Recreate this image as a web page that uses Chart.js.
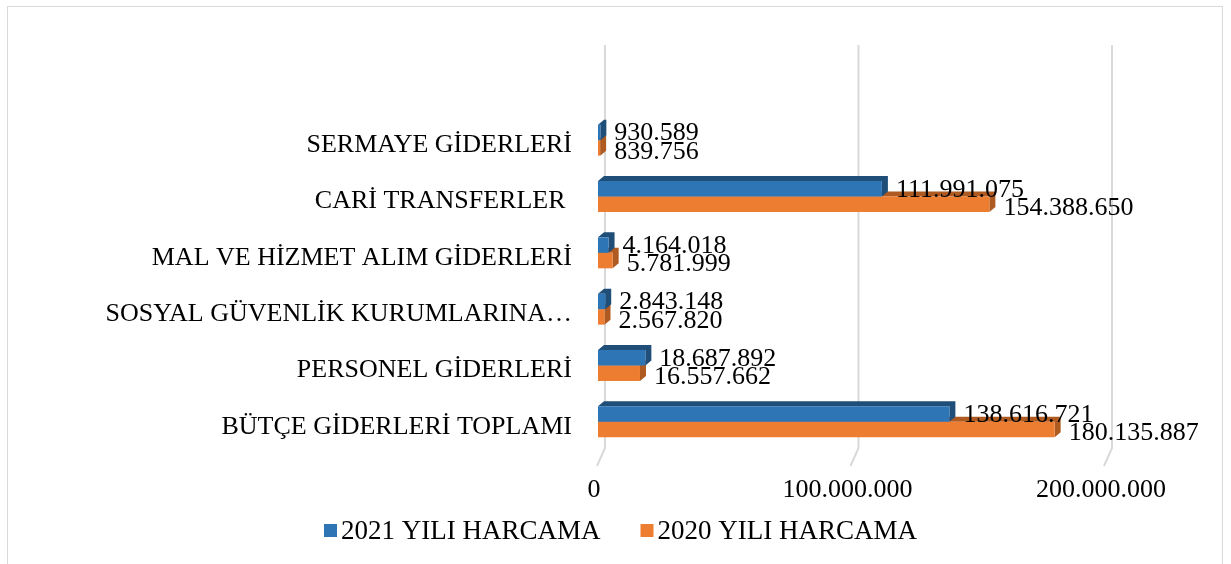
<!DOCTYPE html>
<html>
<head>
<meta charset="utf-8">
<script src="https://cdn.jsdelivr.net/npm/chart.js@4"></script>
<style>
    body { margin: 0; background: #fff; }
    #wrap { position: relative; width: 1231px; height: 564px; overflow: hidden; }
    #frame { position: absolute; left: 7px; top: 6px; width: 1214px; height: 600px; border: 1px solid #d9d9d9; }
    #myChart { position: absolute; left: 0; top: 0; }
</style>
</head>
<body>
<div id="wrap">
    <div id="frame"></div>
    <canvas id="myChart" width="1231" height="564"></canvas>
</div>
<script>
let categories = [
    "SERMAYE GİDERLERİ",
    "CARİ TRANSFERLER ",
    "MAL VE HİZMET ALIM GİDERLERİ",
    "SOSYAL GÜVENLİK KURUMLARINA…",
    "PERSONEL GİDERLERİ",
    "BÜTÇE GİDERLERİ TOPLAMI"
];
let harcama2021 = [930589, 111991075, 4164018, 2843148, 18687892, 138616721];
let harcama2020 = [839756, 154388650, 5781999, 2567820, 16557662, 180135887];
let seriesNames = ["2021 YILI HARCAMA", "2020 YILI HARCAMA"];
let tickValues = [0, 100000000, 200000000];

function fmt(v) {
    return String(v).replace(/\B(?=(\d{3})+(?!\d))/g, ".");
}

const font = "Liberation Serif, Times New Roman, serif";
const front = ["#2e75b6", "#ed7d31"];
const dark = ["#1f4e79", "#ae5a21"];

// gridlines with the little 3D floor step, bar depth faces, value labels, legend
const chart3d = {
    id: "chart3d",
    beforeDatasetsDraw(chart) {
        const ctx = chart.ctx;
        const x = chart.scales.x;
        const a = chart.chartArea;
        ctx.save();
        ctx.strokeStyle = "#d9d9d9";
        ctx.lineWidth = 2;
        tickValues.forEach(v => {
            let px = x.getPixelForValue(v);
            ctx.beginPath();
            ctx.moveTo(px + 7, a.top - 67);
            ctx.lineTo(px + 7, a.bottom - 2);
            ctx.lineTo(px - 1, a.bottom + 16);
            ctx.stroke();
        });
        // orange first so blue sits over it
        for (let di = 1; di >= 0; di--) {
            chart.getDatasetMeta(di).data.forEach(bar => {
                let p = bar.getProps(["x", "y", "base", "height"], true);
                let top = p.y - p.height / 2, bot = p.y + p.height / 2;
                ctx.fillStyle = dark[di];
                ctx.beginPath();
                ctx.moveTo(p.base, top);
                ctx.lineTo(p.base + 6, top - 5);
                ctx.lineTo(p.x + 6, top - 5);
                ctx.lineTo(p.x + 6, bot - 5);
                ctx.lineTo(p.x, bot);
                ctx.lineTo(p.x, top);
                ctx.closePath();
                ctx.fill();
            });
        }
        ctx.restore();
    },
    afterDatasetsDraw(chart) {
        const ctx = chart.ctx;
        ctx.save();
        ctx.font = "26px " + font;
        ctx.fillStyle = "#000";
        ctx.textBaseline = "middle";
        ctx.textAlign = "left";
        [0, 1].forEach(di => {
            let vals = chart.data.datasets[di].data;
            chart.getDatasetMeta(di).data.forEach((bar, i) => {
                let p = bar.getProps(["x", "y"], true);
                ctx.fillText(fmt(vals[i]), p.x + 14, p.y + (di ? 4 : 1));
            });
        });
        ctx.restore();
    },
    afterDraw(chart) {
        const ctx = chart.ctx;
        ctx.save();
        ctx.font = "27px " + font;
        ctx.textBaseline = "middle";
        ctx.textAlign = "left";
        let widths = seriesNames.map(s => 13 + 4 + ctx.measureText(s).width);
        let total = widths[0] + 40 + widths[1];
        let lx = chart.width / 2 - total / 2 + 5;
        let ly = 531;
        seriesNames.forEach((s, i) => {
            ctx.fillStyle = front[i];
            ctx.fillRect(lx, ly - 7, 13, 13);
            ctx.fillStyle = "#000";
            ctx.fillText(s, lx + 17, ly + 1);
            lx += widths[i] + 40;
        });
        ctx.restore();
    }
};

const ctx = document.getElementById("myChart").getContext("2d");
const myChart = new Chart(ctx, {
    type: "bar",
    data: {
        labels: categories,
        datasets: [{
            label: seriesNames[0],
            data: harcama2021,
            backgroundColor: front[0]
        }, {
            label: seriesNames[1],
            data: harcama2020,
            backgroundColor: front[1]
        }]
    },
    options: {
        indexAxis: "y",
        responsive: false,
        animation: false,
        categoryPercentage: 0.55,
        barPercentage: 1.0,
        layout: { padding: { top: 112, right: 126, bottom: 54, left: 0 } },
        scales: {
            x: {
                min: 0,
                max: 200000000,
                grid: { display: false },
                border: { display: false },
                afterBuildTicks: s => { s.ticks = tickValues.map(v => ({ value: v })); },
                afterFit: s => { s.height = 60; },
                ticks: {
                    padding: 17,
                    labelOffset: -4,
                    color: "#000",
                    font: { family: font, size: 26 },
                    callback: v => fmt(v)
                }
            },
            y: {
                grid: { display: false },
                border: { display: false },
                afterFit: s => { s.width = 598; },
                ticks: {
                    padding: 18,
                    labelOffset: 5,
                    color: "#000",
                    font: { family: font, size: 26 }
                }
            }
        },
        plugins: {
            legend: { display: false },
            tooltip: { enabled: false }
        }
    },
    plugins: [chart3d]
});
</script>
</body>
</html>
